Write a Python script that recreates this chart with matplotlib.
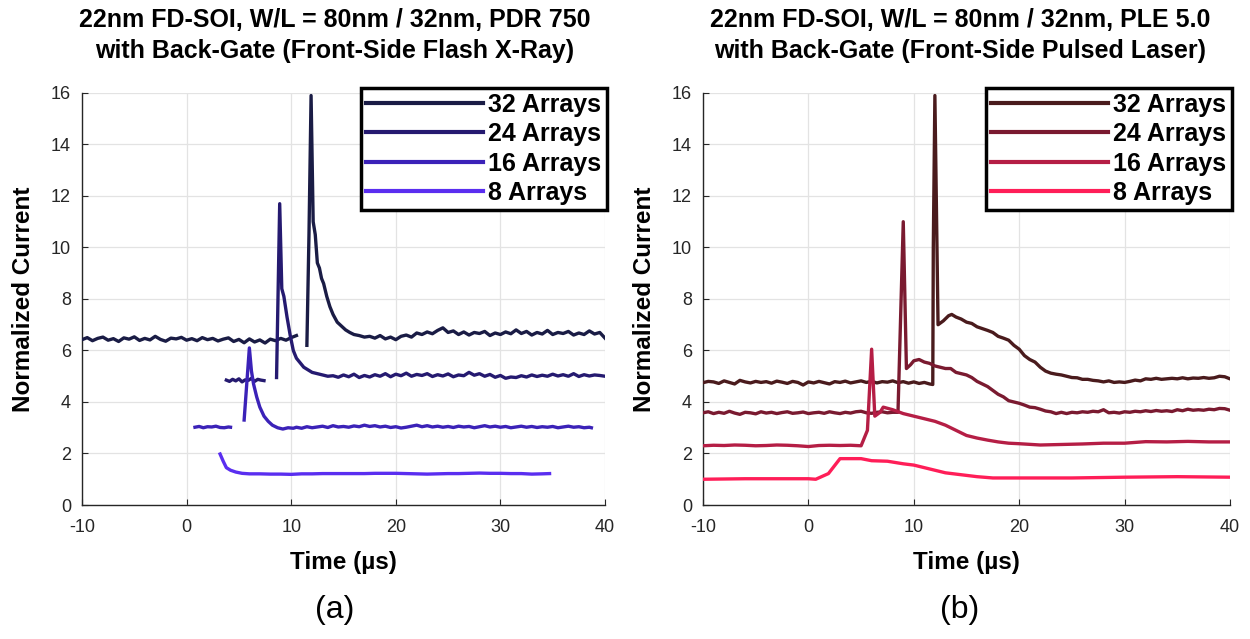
import numpy as np
import matplotlib
matplotlib.use("Agg")
import matplotlib.pyplot as plt
from matplotlib import rcParams

rcParams['font.family'] = ['Liberation Sans', 'DejaVu Sans']
rcParams['axes.unicode_minus'] = False

labels = ['32 Arrays', '24 Arrays', '16 Arrays', '8 Arrays']

# ---------------- (a) flash X-ray : time (us) / normalized current ----------------
a32_t1 = np.arange(-10, 10.51, 0.5)
a32_v1 = [6.42, 6.50, 6.38, 6.47, 6.52, 6.40, 6.46, 6.35, 6.49, 6.44, 6.53, 6.39, 6.47, 6.41,
          6.55, 6.43, 6.36, 6.48, 6.45, 6.51, 6.40, 6.46, 6.38, 6.50, 6.42, 6.47, 6.37, 6.44,
          6.49, 6.35, 6.43, 6.30, 6.45, 6.33, 6.41, 6.29, 6.44, 6.38, 6.47, 6.40, 6.50, 6.58]
a32_t2 = [11.5, 11.7, 11.9, 12.1, 12.3, 12.5, 12.7, 12.9, 13.1, 13.4, 13.7, 14.0, 14.4, 14.8,
          15.2, 15.6, 16.0, 16.5, 17.0] + list(np.arange(17.5, 40.01, 0.5))
a32_v2 = [6.20, 10.5, 15.9, 11.0, 10.5, 9.4, 9.2, 8.8, 8.6, 8.1, 7.7, 7.4, 7.1, 6.95,
          6.80, 6.70, 6.62, 6.58, 6.52,
          6.55, 6.48, 6.58, 6.45, 6.52, 6.42, 6.55, 6.60, 6.52, 6.68, 6.62, 6.72, 6.65, 6.78,
          6.88, 6.70, 6.76, 6.62, 6.72, 6.60, 6.70, 6.66, 6.74, 6.58, 6.68, 6.62, 6.72, 6.65,
          6.80, 6.66, 6.74, 6.60, 6.70, 6.64, 6.78, 6.62, 6.70, 6.66, 6.74, 6.60, 6.68, 6.62,
          6.76, 6.64, 6.70, 6.48]

a24_t1 = [3.8, 4.1, 4.4, 4.7, 5.0, 5.3, 5.6, 5.9, 6.2, 6.5, 6.8, 7.1, 7.4]
a24_v1 = [4.85, 4.80, 4.88, 4.82, 4.90, 4.78, 4.86, 4.84, 4.92, 4.80, 4.88, 4.85, 4.83]
a24_t2 = [8.6, 8.9, 9.1, 9.3, 9.6, 9.9, 10.2, 10.5, 10.8, 11.2, 11.6, 12.0, 12.5, 13.0,
          13.5, 14.0] + list(np.arange(14.5, 40.01, 0.5))
a24_v2 = [4.95, 11.7, 8.4, 8.1, 7.3, 6.6, 6.0, 5.7, 5.55, 5.35, 5.25, 5.15, 5.10, 5.05,
          5.00, 5.02,
          4.96, 5.05, 4.98, 5.08, 4.95, 5.03, 4.97, 5.06, 5.00, 5.10,
          4.98, 5.08, 5.02, 5.12, 5.00, 5.07, 5.03, 5.10, 4.99, 5.06,
          5.01, 5.09, 4.98, 5.05, 5.02, 5.15, 5.04, 5.10, 5.00, 5.07,
          4.96, 5.03, 4.92, 4.97, 4.95, 5.02, 4.97, 5.05, 4.99, 5.04,
          5.00, 5.08, 5.01, 5.06, 5.00, 5.10, 4.99, 5.06, 5.01, 5.05,
          5.03, 5.00]

a16_t1 = [0.8, 1.2, 1.6, 2.0, 2.4, 2.8, 3.2, 3.6, 4.0, 4.2]
a16_v1 = [3.02, 3.05, 3.00, 3.04, 3.03, 3.06, 3.01, 3.00, 3.03, 3.02]
a16_t2 = [5.5, 6.0, 6.2, 6.4, 6.7, 7.0, 7.4, 7.8, 8.2, 8.7, 9.2, 9.7, 10.2] + list(np.arange(10.5, 38.51, 0.5)) + [38.7]
a16_v2 = [3.30, 6.10, 5.20, 4.70, 4.20, 3.80, 3.45, 3.25, 3.10, 3.00, 2.95, 3.00, 2.98,
          3.02, 2.98, 3.04, 3.00, 3.03, 3.06, 3.01, 3.08, 3.03, 3.05,
          3.02, 3.07, 3.04, 3.10, 3.05, 3.08, 3.03, 3.06, 3.01, 3.04,
          2.99, 3.02, 3.06, 3.10, 3.04, 3.08, 3.03, 3.06, 3.02, 3.05,
          3.01, 3.06, 3.03, 3.05, 3.00, 3.04, 3.08, 3.03, 3.06, 3.02,
          3.05, 3.00, 3.03, 3.06, 3.02, 3.05, 3.01, 3.04, 3.02, 3.05,
          3.00, 3.03, 3.06, 3.02, 3.04, 3.00, 3.02,
          3.00]

a8_t = [3.2, 3.5, 3.8, 4.2, 4.7, 5.3, 6.0, 7, 8, 9, 10, 11, 12, 13, 14, 15, 16, 17, 18, 19,
        20, 21, 22, 23, 24, 25, 26, 27, 28, 29, 30, 31, 32, 33, 34, 34.7]
a8_v = [1.98, 1.70, 1.45, 1.35, 1.28, 1.23, 1.21, 1.21, 1.20, 1.20, 1.19, 1.21, 1.21, 1.22,
        1.22, 1.22, 1.22, 1.22, 1.23, 1.23, 1.23, 1.22, 1.21, 1.20, 1.21, 1.22, 1.22, 1.23,
        1.24, 1.23, 1.23, 1.22, 1.22, 1.20, 1.21, 1.22]

# ---------------- (b) pulsed laser ----------------
b32_t = list(np.arange(-10, 11.51, 0.5)) + [11.8, 11.85, 12.0, 12.3, 12.8, 13.3, 13.6] + list(np.arange(14.0, 40.01, 0.5))
b32_v = [4.75, 4.80, 4.78, 4.72, 4.82, 4.76, 4.70, 4.84, 4.78, 4.74,
         4.80, 4.76, 4.79, 4.73, 4.81, 4.77, 4.72, 4.80, 4.76, 4.66,
         4.78, 4.74, 4.80, 4.75, 4.70, 4.79, 4.76, 4.81, 4.74, 4.78,
         4.82, 4.76, 4.80, 4.74, 4.79, 4.77, 4.82, 4.75, 4.79, 4.73,
         4.78, 4.72, 4.76, 4.70,
         4.68, 10.0, 15.9, 7.00, 7.15, 7.35, 7.40,
         7.30, 7.22, 7.10, 7.05, 6.92, 6.85, 6.78, 6.70, 6.55, 6.48,
         6.40, 6.20, 6.05, 5.80, 5.65, 5.55, 5.35, 5.20, 5.12, 5.08,
         5.05, 5.00, 4.95, 4.94, 4.88, 4.88, 4.84, 4.82, 4.78, 4.82,
         4.76, 4.78, 4.76, 4.80, 4.85, 4.82, 4.90, 4.88, 4.92, 4.88,
         4.90, 4.92, 4.90, 4.94, 4.90, 4.93, 4.92, 4.95, 4.92, 4.94,
         5.00, 4.98, 4.90]

b24_t = list(np.arange(-10, 8.01, 0.5)) + [8.5, 9.0, 9.3, 9.7] + list(np.arange(10.0, 40.01, 0.5))
b24_v = [3.58, 3.62, 3.55, 3.60, 3.56, 3.64, 3.57, 3.52, 3.60, 3.58,
         3.54, 3.62, 3.57, 3.60, 3.55, 3.59, 3.62, 3.56, 3.58, 3.61,
         3.55, 3.58, 3.60, 3.56, 3.62, 3.58, 3.55, 3.60, 3.57, 3.62,
         3.64, 3.58, 3.56, 3.60, 3.62, 3.58, 3.60,
         3.60, 11.0, 5.30, 5.45,
         5.60, 5.65, 5.55, 5.50, 5.40, 5.35, 5.30, 5.30, 5.15, 5.10,
         5.05, 4.95, 4.80, 4.70, 4.60, 4.45, 4.30, 4.20, 4.05, 4.00,
         3.95, 3.88, 3.80, 3.78, 3.72, 3.65, 3.62, 3.55, 3.60, 3.55,
         3.60, 3.58, 3.62, 3.60, 3.64, 3.62, 3.70, 3.58, 3.60, 3.57,
         3.62, 3.60, 3.64, 3.62, 3.66, 3.63, 3.67, 3.64, 3.66, 3.63,
         3.70, 3.66, 3.72, 3.68, 3.70, 3.68, 3.72, 3.70, 3.75, 3.74,
         3.68]

b16_t = list(np.arange(-10, 5.01, 1.0)) + [5.6, 6.0, 6.3, 6.8, 7.1, 8, 9, 10, 11, 12, 13, 14, 15,
                                          16, 17, 18, 19, 20, 22, 24, 26, 28, 30, 32, 34, 36, 38, 40]
b16_v = [2.30, 2.32, 2.31, 2.33, 2.32, 2.30, 2.31, 2.33, 2.32, 2.30, 2.27, 2.31, 2.32, 2.31,
         2.32, 2.30,
         2.90, 6.05, 3.45, 3.60, 3.80, 3.70, 3.55, 3.45, 3.35, 3.25, 3.10, 2.90, 2.70, 2.60,
         2.52, 2.45, 2.40, 2.38, 2.33, 2.35, 2.37, 2.40, 2.40, 2.46, 2.45, 2.47, 2.45, 2.45]

b8_t = [-10, -8, -6, -4, -2, 0, 0.7, 1.9, 3.0, 4, 5, 6, 7.5, 9, 10, 11, 12, 13, 14, 15, 16,
        17.5, 20, 25, 30, 35, 40]
b8_v = [1.00, 1.01, 1.02, 1.02, 1.02, 1.02, 1.00, 1.22, 1.80, 1.80, 1.80, 1.72, 1.70, 1.60,
        1.55, 1.45, 1.35, 1.25, 1.20, 1.15, 1.10, 1.05, 1.05, 1.05, 1.08, 1.10, 1.08]

left_colors = ['#1a1c45', '#251a70', '#3b22b8', '#5a2ef0']
right_colors = ['#4a1b1d', '#7a1a30', '#b51e45', '#ff1e58']

left_series = [[(a32_t1, a32_v1), (a32_t2, a32_v2)],
               [(a24_t1, a24_v1), (a24_t2, a24_v2)],
               [(a16_t1, a16_v1), (a16_t2, a16_v2)],
               [(a8_t, a8_v)]]
right_series = [[(b32_t, b32_v)], [(b24_t, b24_v)], [(b16_t, b16_v)], [(b8_t, b8_v)]]

titles = ['22nm FD-SOI, W/L = 80nm / 32nm, PDR 750\nwith Back-Gate (Front-Side Flash X-Ray)',
          '22nm FD-SOI, W/L = 80nm / 32nm, PLE 5.0\nwith Back-Gate (Front-Side Pulsed Laser)']

fig = plt.figure(figsize=(12.5, 6.39), dpi=100)
ax1 = fig.add_axes([0.0656, 0.2097, 0.4184, 0.6448])
ax2 = fig.add_axes([0.5624, 0.2097, 0.4216, 0.6448])

for ax, series, colors, ttl, tx, tag in [(ax1, left_series, left_colors, titles[0], 0.268, '(a)'),
                                         (ax2, right_series, right_colors, titles[1], 0.768, '(b)')]:
    for segs, c, lab in zip(series, colors, labels):
        for i, (t, v) in enumerate(segs):
            assert len(t) == len(v), (lab, len(t), len(v))
            ax.plot(t, v, color=c, lw=2.4, label=lab if i == 0 else None, zorder=3)
    ax.set_xlim(-10, 40)
    ax.set_ylim(0, 16)
    ax.set_xticks([-10, 0, 10, 20, 30, 40])
    ax.set_yticks(range(0, 17, 2))
    ax.grid(True, color='#e3e3e3', lw=0.9)
    ax.set_axisbelow(True)
    for s in ['top', 'right']:
        ax.spines[s].set_visible(False)
    for s in ['left', 'bottom']:
        ax.spines[s].set_color('#262626')
        ax.spines[s].set_linewidth(1.0)
    ax.tick_params(direction='in', length=4, labelsize=13, colors='#262626')
    ax.tick_params(axis='x', pad=10)
    ax.tick_params(axis='y', pad=8)
    ax.set_xlabel('Time (µs)', fontsize=17.5, fontweight='bold', labelpad=11)
    ax.set_ylabel('Normalized Current', fontsize=17.5, fontweight='bold', labelpad=11)

    # legend sits in the upper right corner, heavy black frame
    leg = ax.legend(loc='upper right', bbox_to_anchor=(1.003, 1.013), borderaxespad=0,
                    prop={'weight': 'bold', 'size': 18}, frameon=True, fancybox=False,
                    handlelength=4.7, handletextpad=0.2, labelspacing=0.22, borderpad=0.2)
    leg.get_frame().set_edgecolor('black')
    leg.get_frame().set_linewidth(2.5)
    leg.get_frame().set_alpha(1)
    for ln in leg.get_lines():
        ln.set_linewidth(3)

    fig.text(tx, 0.944, ttl, ha='center', va='center', fontsize=18, fontweight='bold',
             linespacing=1.35)
    fig.text(tx, 0.046, tag, ha='center', va='center', fontsize=23)

fig.savefig('out.png', dpi=100)
